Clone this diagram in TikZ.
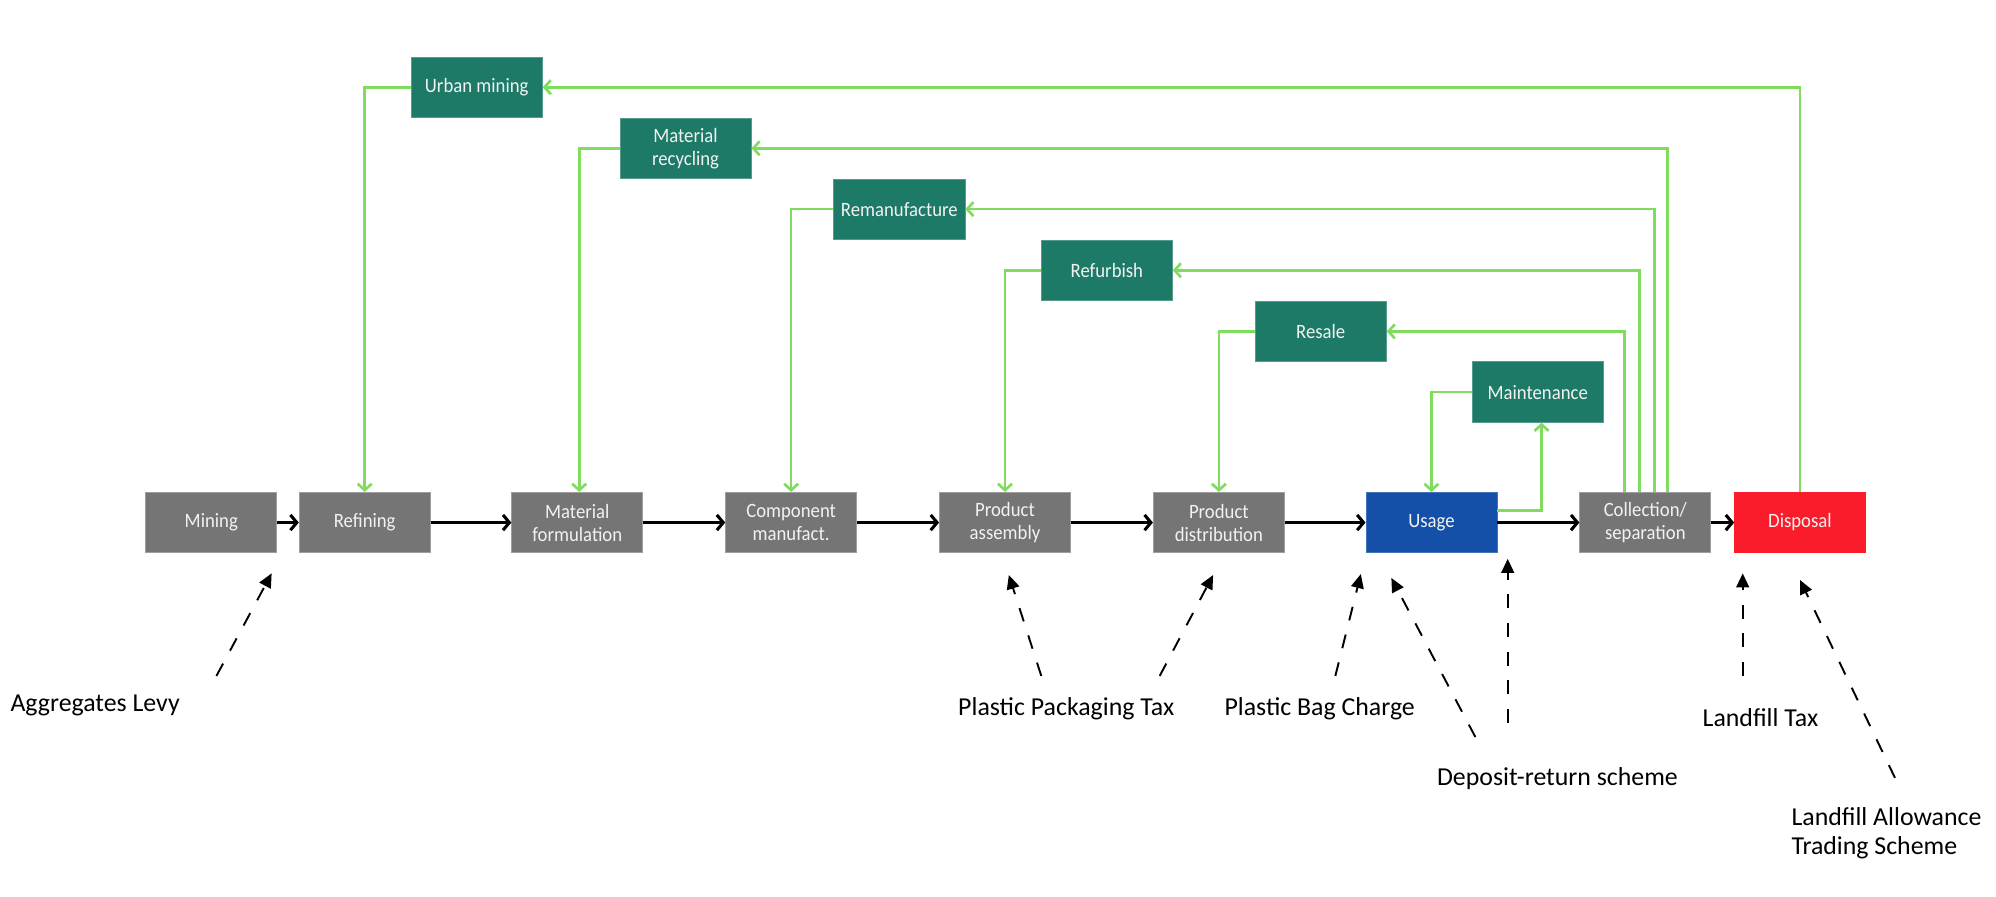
\documentclass[tikz,border=0pt]{standalone}
\usepackage{fontspec}
\setmainfont{Carlito}
\newfontfamily\boxfont[FakeStretch=0.92]{Carlito}
\usetikzlibrary{arrows.meta}
\definecolor{boxgray}{HTML}{757575}
\definecolor{boxgreen}{HTML}{1D7A67}
\definecolor{boxblue}{HTML}{1450A8}
\definecolor{boxred}{HTML}{FA1C2A}
\definecolor{lgreen}{HTML}{80DC5E}
\definecolor{boxtext}{HTML}{F2F2F2}
\begin{document}
\begin{tikzpicture}[x=1pt,y=-1pt,
  box/.style={rectangle, minimum width=103pt, minimum height=47.5pt, inner sep=0pt,
    text=boxtext, font=\boxfont\fontsize{16}{18}\selectfont, align=center},
  mbox/.style={box, fill=boxgray, draw=boxgray!70!white, line width=0.6pt},
  gbox/.style={box, fill=boxgreen, draw=boxgreen!75!white, line width=0.6pt},
  flow/.style={line width=2.4pt, -{Straight Barb[length=5pt,width=12pt]}},
  loopline/.style={draw=lgreen, line width=2.1pt, -{Straight Barb[length=5pt,width=11pt]}},
  policy/.style={line width=1.5pt, dash pattern=on 11pt off 11.5pt, -{Triangle[length=11pt,width=10pt]}},
  lbl/.style={font=\fontsize{20.3}{23.4}\selectfont, inner sep=0pt, text=black}
]
\useasboundingbox (0,0) rectangle (1568,704);

% main chain
\node[mbox] (mining)  at (166,410.5)   {Mining};
\node[mbox] (refin)   at (286.5,410.5) {Refining};
\node[mbox] (matform) at (453.5,410.5) {Material\\formulation};
\node[mbox] (comp)    at (621.5,410.5) {Component\\manufact.};
\node[mbox] (assem)   at (789.5,410.5) {Product\\assembly};
\node[mbox] (distr)   at (957.5,410.5) {Product\\distribution};
\node[box, fill=boxblue, draw=boxblue!80!white, line width=0.6pt] (usage) at (1124.5,410.5) {Usage};
\node[mbox] (coll)    at (1292.5,410.5) {Collection/\\separation};
\node[box, fill=boxred] (disp) at (1414,410.5) {Disposal};

% loop boxes
\node[gbox] (urban)  at (374.5,68.5)  {Urban mining};
\node[gbox] (recyc)  at (538.5,116.5) {Material\\recycling};
\node[gbox] (reman)  at (706.5,164.3) {Remanufacture};
\node[gbox] (refurb) at (869.5,212.3) {Refurbish};
\node[gbox] (resale) at (1037.5,260.3) {Resale};
\node[gbox] (maint)  at (1208,308)    {Maintenance};

% main flow arrows
\draw[flow] (mining) -- (refin);
\draw[flow] (refin) -- (matform);
\draw[flow] (matform) -- (comp);
\draw[flow] (comp) -- (assem);
\draw[flow] (assem) -- (distr);
\draw[flow] (distr) -- (usage);
\draw[flow] (usage) -- (coll);
\draw[flow] (coll) -- (disp);

% loops
\draw[loopline] (disp.north) |- (urban.east);
\draw[loopline] (urban.west) -| (refin.north);
\draw[loopline] ([xshift=17.5pt]coll.north) |- (recyc.east);
\draw[loopline] (recyc.west) -| ([xshift=1.5pt]matform.north);
\draw[loopline] ([xshift=7pt]coll.north) |- (reman.east);
\draw[loopline] (reman.west) -| (comp.north);
\draw[loopline] ([xshift=-4.5pt]coll.north) |- (refurb.east);
\draw[loopline] (refurb.west) -| (assem.north);
\draw[loopline] ([xshift=-16.5pt]coll.north) |- (resale.east);
\draw[loopline] (resale.west) -| (distr.north);
\draw[loopline] ([yshift=9.5pt]usage.east) -| ([xshift=3pt]maint.south);
\draw[loopline] (maint.west) -| (usage.north);

% policy labels
\node[lbl] (agg)  at (74.7,553.8)  {Aggregates Levy};
\node[lbl] (ppt)  at (837.6,557)   {Plastic Packaging Tax};
\node[lbl] (bag)  at (1036.7,557)  {Plastic Bag Charge};
\node[lbl] (drs)  at (1223.5,612)  {Deposit-return scheme};
\node[lbl] (ltax) at (1383,564)    {Landfill Tax};
\node[lbl, align=left] (lats) at (1482,654.6) {Landfill Allowance\\Trading Scheme};

% policy arrow end points
\coordinate (aggT) at (170,531);    \coordinate (aggH) at (213.4,450.4);
\coordinate (pptT1) at (818,531);   \coordinate (pptH1) at (792.5,451.7);
\coordinate (pptT2) at (911,531);   \coordinate (pptH2) at (953,451.7);
\coordinate (bagT) at (1049,531);   \coordinate (bagH) at (1069,451);
\coordinate (drsT1) at (1159,579);  \coordinate (drsH1) at (1093,454);
\coordinate (drsT2) at (1184.4,568);\coordinate (drsH2) at (1184.4,439);
\coordinate (ltaxT) at (1369,531);  \coordinate (ltaxH) at (1369,450.4);
\coordinate (latsT) at (1488.6,611);\coordinate (latsH) at (1414,455.6);

\draw[policy] (aggT) -- (aggH);
\draw[policy] (pptT1) -- (pptH1);
\draw[policy] (pptT2) -- (pptH2);
\draw[policy] (bagT) -- (bagH);
\draw[policy] (drsT1) -- (drsH1);
\draw[policy] (drsT2) -- (drsH2);
\draw[policy] (ltaxT) -- (ltaxH);
\draw[policy] (latsT) -- (latsH);
\end{tikzpicture}
\end{document}
